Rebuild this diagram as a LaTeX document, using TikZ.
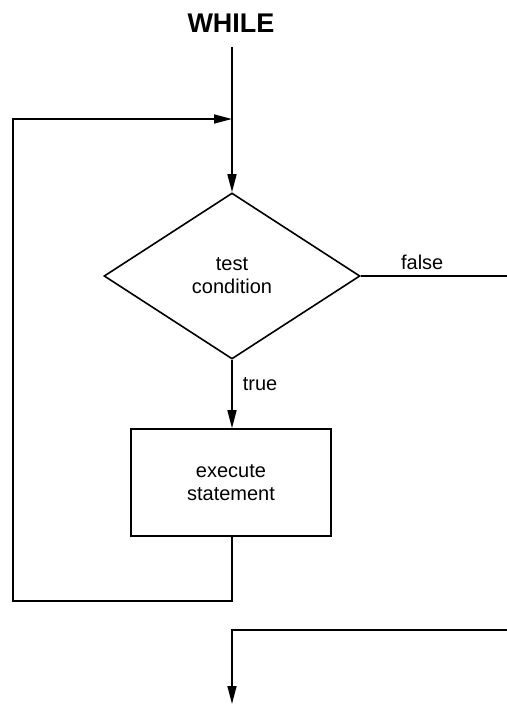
\documentclass[tikz,border=0pt]{standalone}
\usepackage{fontspec}
\setmainfont{Liberation Sans}
\usetikzlibrary{shapes.geometric,arrows.meta}
\begin{document}
\begin{tikzpicture}[x=1pt,y=1pt,
  line width=1.6pt,
  flow/.style={-{Triangle[length=18pt,width=9pt]}},
  lbl/.style={font=\fontsize{20}{23}\selectfont, align=center, inner sep=0pt},
  decision/.style={draw, shape=diamond, aspect=1.54, minimum width=256pt, minimum height=166pt, inner sep=0pt, lbl},
  process/.style={draw, rectangle, minimum width=200pt, minimum height=107pt, inner sep=0pt, lbl}]
\useasboundingbox (0,0) rectangle (506,-704);
\node[font=\bfseries\fontsize{27}{30}\selectfont, inner sep=0pt] (title) at (231,-23) {WHILE};
\coordinate (start) at (232,-47);
\coordinate (merge) at (232,-119);
\node[decision] (test) at (232,-276) {test\\condition};
\node[process] (exec) at (231,-482.5) {execute\\statement};
\coordinate (loopA) at (232,-601);
\coordinate (loopB) at (13,-601);
\coordinate (loopC) at (13,-119);
\coordinate (falseEnd) at (507,-276);
\coordinate (outStart) at (507,-630);
\coordinate (outCorner) at (232,-630);
\coordinate (outEnd) at (232,-704);
\draw[flow] (start) -- (test.north);
\draw[flow] (exec.south -| loopA) -- (loopA) -- (loopB) -- (loopC) -- (merge);
\draw[flow] (test.south) -- node[lbl, right=10pt, pos=0.35] (truelbl) {true} (test.south |- exec.north);
\draw (test.east) -- node[lbl, above=6pt, pos=0.42] (falselbl) {false} (falseEnd);
\draw[flow] (outStart) -- (outCorner) -- (outEnd);
\end{tikzpicture}
\end{document}
